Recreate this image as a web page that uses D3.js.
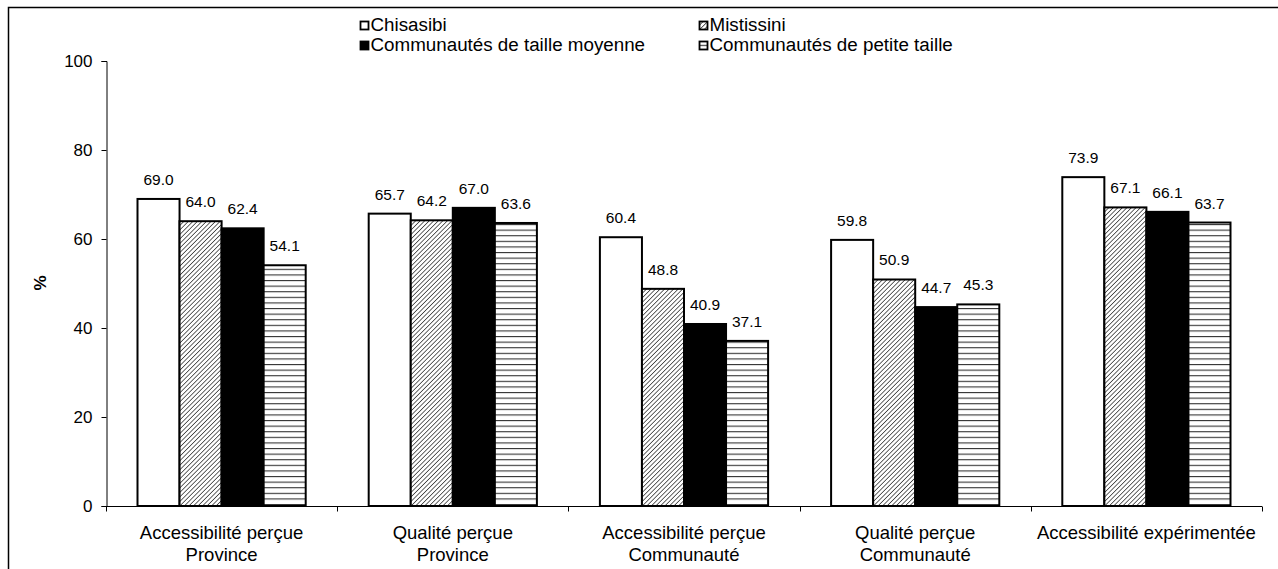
<!DOCTYPE html>
<html>
<head>
<meta charset="utf-8">
<script src="https://cdn.jsdelivr.net/npm/d3@7"></script>
<style>
  html, body { margin: 0; padding: 0; background: #fff; }
  svg { display: block; font-family: "Liberation Sans", Arial, sans-serif; }
</style>
</head>
<body>
<svg id="chart" width="1278" height="569"></svg>
<script>
// Category labels (two lines each)
const categories = [
  ["Accessibilité perçue", "Province"],
  ["Qualité perçue", "Province"],
  ["Accessibilité perçue", "Communauté"],
  ["Qualité perçue", "Communauté"],
  ["Accessibilité expérimentée"]
];
const seriesNames = ["Chisasibi", "Mistissini", "Communautés de taille moyenne", "Communautés de petite taille"];
const chisasibi = [69.0, 65.7, 60.4, 59.8, 73.9];
const mistissini = [64.0, 64.2, 48.8, 50.9, 67.1];
const moyenne = [62.4, 67.0, 40.9, 44.7, 66.1];
const petite = [54.1, 63.6, 37.1, 45.3, 63.7];
const yTicks = [0, 20, 40, 60, 80, 100];

const seriesValues = [chisasibi, mistissini, moyenne, petite];
const fills = ["#fff", "url(#diag)", "#000", "url(#horiz)"];

const svg = d3.select("#chart");
const defs = svg.append("defs");

// Fine diagonal hatch
const diag = defs.append("pattern")
  .attr("id", "diag").attr("patternUnits", "userSpaceOnUse")
  .attr("width", 3.2).attr("height", 3.2)
  .attr("patternTransform", "rotate(45)");
diag.append("rect").attr("width", 3.2).attr("height", 3.2).attr("fill", "#fff");
diag.append("line").attr("x1", 0).attr("y1", 0).attr("x2", 0).attr("y2", 3.2)
  .attr("stroke", "#333").attr("stroke-width", 1.5);

// Horizontal stripes
const horiz = defs.append("pattern")
  .attr("id", "horiz").attr("patternUnits", "userSpaceOnUse")
  .attr("width", 8).attr("height", 5.6);
horiz.append("rect").attr("width", 8).attr("height", 5.6).attr("fill", "#fff");
horiz.append("line").attr("x1", 0).attr("y1", 0.5).attr("x2", 8).attr("y2", 0.5)
  .attr("stroke", "#333").attr("stroke-width", 1.2);

// Outer frame
svg.append("rect").attr("x", 8.5).attr("y", 7.5).attr("width", 1300).attr("height", 600)
  .attr("fill", "none").attr("stroke", "#000").attr("stroke-width", 1.5);

const x0 = d3.scaleBand().domain(d3.range(categories.length)).range([106, 1262]).padding(0);
const x1 = d3.scaleBand().domain(d3.range(seriesNames.length))
  .range([31.5, x0.bandwidth() - 31.5]).padding(0);
const y = d3.scaleLinear().domain([0, 100]).range([506, 61]);

// Y axis
const yAxis = svg.append("g").attr("transform", "translate(106.5,0)")
  .call(d3.axisLeft(y).tickValues(yTicks).tickSize(5).tickPadding(9).tickFormat(d3.format("d")));
yAxis.select(".domain").attr("stroke", "#000").attr("stroke-width", 1);
yAxis.selectAll(".tick line").attr("stroke", "#000");
yAxis.selectAll("text").attr("font-size", 17).attr("fill", "#000")
  .attr("font-family", "Liberation Sans, Arial, sans-serif");

svg.append("text")
  .attr("transform", "translate(46,283) rotate(-90)")
  .attr("text-anchor", "middle")
  .attr("font-size", 17).attr("font-weight", "bold")
  .text("%");

// Bars
const groups = svg.append("g").selectAll("g")
  .data(categories).join("g")
  .attr("transform", (d, i) => `translate(${x0(i)},0)`);

groups.each(function(cat, ci) {
  const g = d3.select(this);
  seriesValues.forEach((vals, si) => {
    const v = vals[ci];
    g.append("rect")
      .attr("x", x1(si))
      .attr("y", y(v))
      .attr("width", x1.bandwidth())
      .attr("height", y(0) - y(v))
      .attr("fill", fills[si])
      .attr("stroke", "#000")
      .attr("stroke-width", 2);
    g.append("text")
      .attr("x", x1(si) + x1.bandwidth() / 2)
      .attr("y", y(v) - 14)
      .attr("text-anchor", "middle")
      .attr("font-size", 15.5)
      .text(v.toFixed(1));
  });
});

// X axis (category boundaries)
const xAxisG = svg.append("g").attr("transform", "translate(0,506.5)");
xAxisG.append("line").attr("x1", 106).attr("x2", 1262).attr("stroke", "#000").attr("stroke-width", 1);
xAxisG.selectAll("line.tk").data(d3.range(categories.length + 1)).join("line")
  .attr("class", "tk")
  .attr("x1", i => Math.round(i < categories.length ? x0(i) : x0.range()[1]) + 0.5)
  .attr("x2", i => Math.round(i < categories.length ? x0(i) : x0.range()[1]) + 0.5)
  .attr("y1", 0).attr("y2", 5).attr("stroke", "#000");

categories.forEach((lines, ci) => {
  const t = svg.append("text")
    .attr("x", x0(ci) + x0.bandwidth() / 2)
    .attr("y", 539)
    .attr("text-anchor", "middle")
    .attr("font-size", 18.5);
  lines.forEach((ln, li) => {
    t.append("tspan").attr("x", x0(ci) + x0.bandwidth() / 2)
      .attr("dy", li === 0 ? 0 : 22).text(ln);
  });
});

// Legend
const legendPos = [[360, 21], [699, 21], [360, 41], [699, 41]];
seriesNames.forEach((name, si) => {
  const [lx, ly] = legendPos[si];
  svg.append("rect").attr("x", lx + 0.5).attr("y", ly + 0.5).attr("width", 8).attr("height", 8)
    .attr("fill", fills[si]).attr("stroke", "#000").attr("stroke-width", 1.8);
  svg.append("text").attr("x", lx + 10.5).attr("y", ly + 9.5)
    .attr("font-size", 18.8).text(name);
});
</script>
</body>
</html>
